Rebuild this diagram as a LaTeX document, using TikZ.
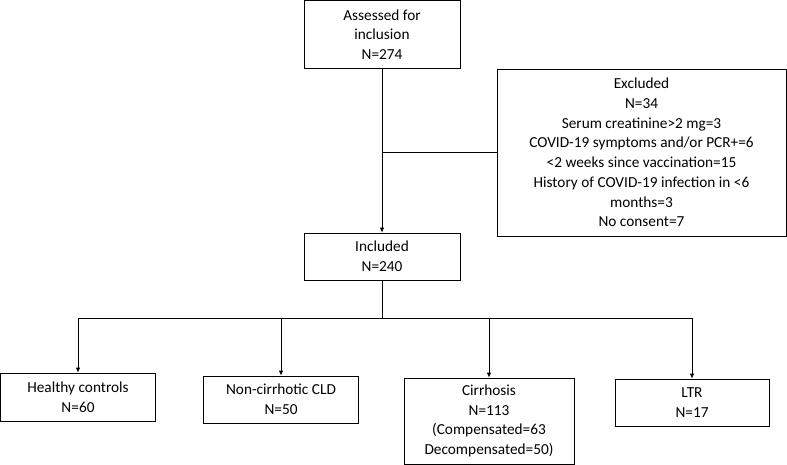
\documentclass[tikz,border=0pt]{standalone}
\usepackage{fontspec}
\setmainfont{Carlito}
\usetikzlibrary{arrows.meta}
\begin{document}
\begin{tikzpicture}[x=1pt,y=-1pt,
  box/.style={draw,line width=0.8pt,align=center,inner sep=0pt,
    font=\fontsize{15.3}{19.7}\selectfont},
  arr/.style={-{Latex[length=5pt,width=4.5pt]},line width=0.8pt}]
\useasboundingbox (0,0) rectangle (787,465);
\node[box,minimum width=156,minimum height=68] (assess) at (382,34.5) {Assessed for\\inclusion\\N=274};
\node[box,minimum width=289,minimum height=167] (excl) at (641.5,152.5) {Excluded\\N=34\\Serum creatinine>2 mg=3\\COVID-19 symptoms and/or PCR+=6\\<2 weeks since vaccination=15\\History of COVID-19 infection in <6\\months=3\\No consent=7};
\node[box,minimum width=156,minimum height=47] (incl) at (382,256.5) {Included\\N=240};
\node[box,minimum width=155,minimum height=48] (healthy) at (78,397) {Healthy controls\\N=60};
\node[box,minimum width=155,minimum height=47] (noncirr) at (281,399.5) {Non-cirrhotic CLD\\N=50};
\node[box,minimum width=170,minimum height=86] (cirr) at (489,421) {Cirrhosis\\N=113\\(Compensated=63\\Decompensated=50)};
\node[box,minimum width=154,minimum height=47] (ltr) at (692,402.5) {LTR\\N=17};
\coordinate (split) at (382,318);
\draw[arr] (assess) -- (incl);
\draw[line width=0.8pt] (assess.south |- excl.west) -- (excl.west);
\draw[line width=0.8pt] (incl) -- (split);
\draw[arr] (split) -| (healthy.north);
\draw[arr] (split) -| (noncirr.north);
\draw[arr] (split) -| (cirr.north);
\draw[arr] (split) -| (ltr.north);
\end{tikzpicture}
\end{document}
